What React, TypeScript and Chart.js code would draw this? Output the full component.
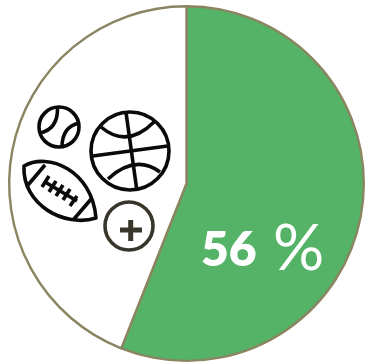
import { useEffect, useRef } from "react";
import { Chart, registerables } from "chart.js";

Chart.register(...registerables);

const categories = ["Sports", "Other"];
const shares = [56, 44];
const sliceColors = ["#55B368", "#FFFFFF"];
const outlineColor = "#8A8560";

const baseballPaths = [
  "M79,127 A20,20 0 1 1 39,127 A20,20 0 1 1 79,127 Z",
  "M57.5,108 Q58,129 40,133",
  "M79,123 Q62,127 62,147",
];
const basketballPaths = [
  "M169,151 A39,39 0 1 1 91,151 A39,39 0 1 1 169,151 Z",
  "M92.7,156 L167.7,146",
  "M126,112.5 L136.7,189",
  "M101,127 Q127,149 154,122",
  "M108,179 Q135,154 160,172",
];
const footballPaths = [
  "M24,166 C48,152 92,170 96,218 C65,228 22,205 24,166 Z",
  "M45,165 L28,185",
  "M92,198 L74,219",
  "M45,182 L77,201",
  "M49,176 L42,187",
  "M56,181 L49,192",
  "M63,185 L56,196",
  "M70,189 L63,200",
  "M77,196 L70,206",
];
const addBadgePaths = [
  "M153,226 A24,24 0 1 1 105,226 A24,24 0 1 1 153,226 Z",
  "M120,230 L142,230",
  "M130.7,220 L130.7,241",
];

const strokeAll = (ctx: CanvasRenderingContext2D, paths: string[], color: string, width: number) => {
  ctx.strokeStyle = color;
  ctx.lineWidth = width;
  ctx.lineCap = "butt";
  ctx.lineJoin = "round";
  paths.forEach((d) => ctx.stroke(new Path2D(d)));
};

// Draws the sports icons in the white slice and the share label in the green one.
const decorations = {
  id: "decorations",
  afterDraw(chart: Chart) {
    const ctx = chart.ctx;
    ctx.save();
    strokeAll(ctx, baseballPaths, "#0A0A0A", 3.6);
    strokeAll(ctx, basketballPaths, "#0A0A0A", 3.6);
    strokeAll(ctx, footballPaths, "#0A0A0A", 3.6);
    strokeAll(ctx, addBadgePaths.slice(0, 1), "#38352A", 3.6);
    strokeAll(ctx, addBadgePaths.slice(1), "#38352A", 5);

    ctx.fillStyle = "#FFFFFF";
    ctx.textBaseline = "alphabetic";
    ctx.textAlign = "left";
    ctx.font = "800 48px Lato";
    ctx.fillText(String(shares[0]), 201, 266);
    ctx.font = "400 64px Lato";
    ctx.fillText("%", 273, 270);
    ctx.restore();
  },
};

export default function App() {
  const ref = useRef<HTMLCanvasElement>(null);

  useEffect(() => {
    document.body.style.margin = "0";
    document.body.style.background = "#FFFFFF";
    const chart = new Chart(ref.current!, {
      type: "pie",
      data: {
        labels: categories,
        datasets: [
          {
            data: shares,
            backgroundColor: sliceColors,
            borderColor: outlineColor,
            borderWidth: 2.4,
            borderAlign: "center",
          },
        ],
      },
      options: {
        responsive: false,
        animation: false,
        layout: { padding: { left: 8, right: 0, top: 5, bottom: 1 } },
        plugins: { legend: { display: false }, tooltip: { enabled: false } },
      },
      plugins: [decorations],
    });
    return () => chart.destroy();
  }, []);

  return <canvas ref={ref} width={365} height={363} style={{ display: "block" }} />;
}
